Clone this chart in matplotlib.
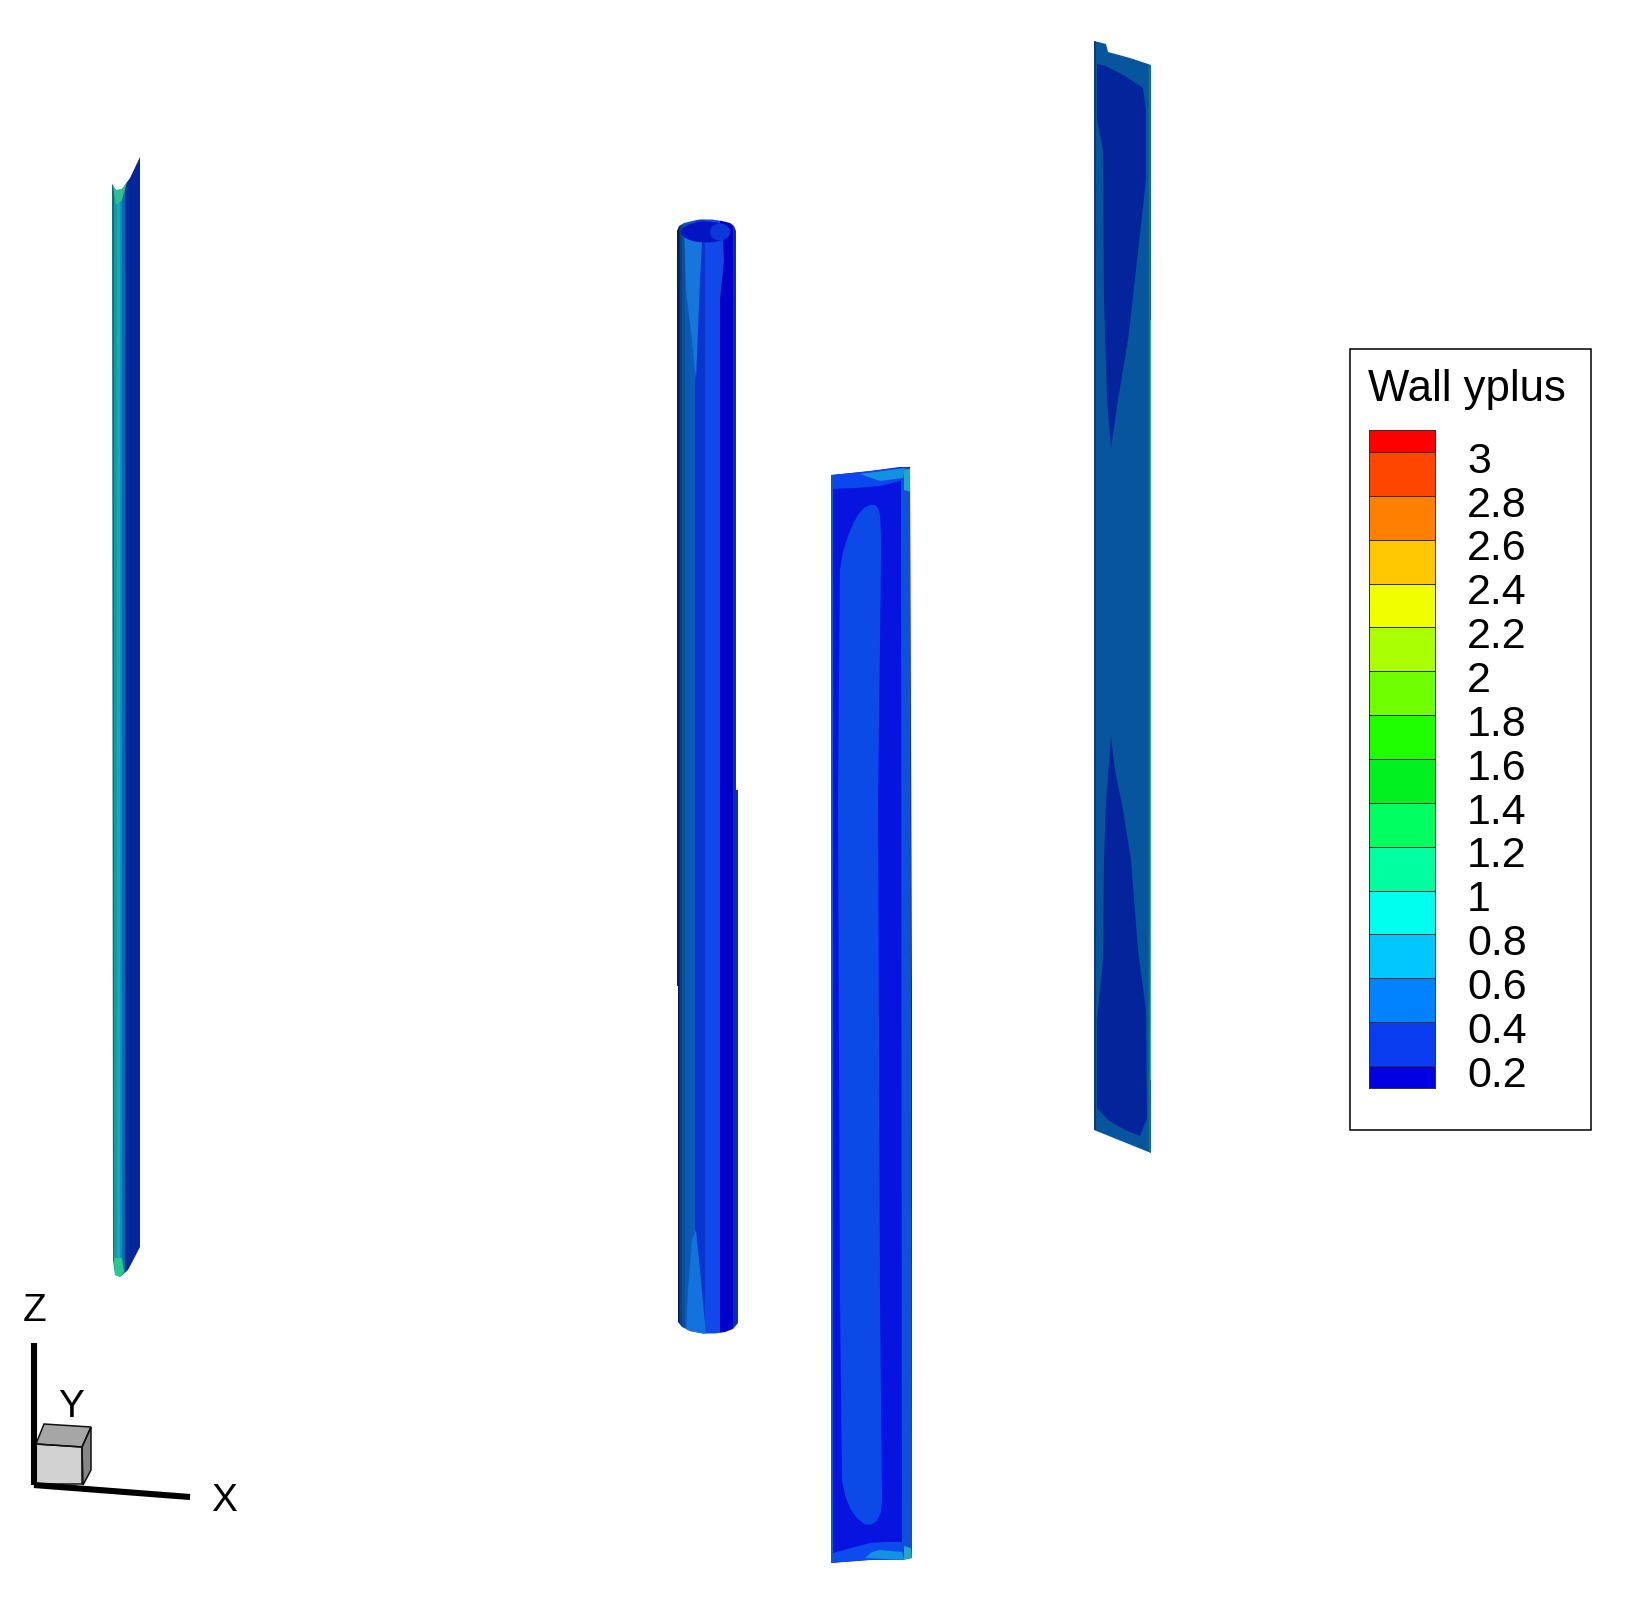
import numpy as np
import matplotlib
matplotlib.use("Agg")
import matplotlib.pyplot as plt
from matplotlib.colors import ListedColormap, BoundaryNorm
from matplotlib.patches import Polygon, Rectangle, Ellipse

plt.rcParams['font.family'] = ['Liberation Sans', 'DejaVu Sans']

# ---- colour legend data
title = "Wall yplus"
levels = [0.2, 0.4, 0.6, 0.8, 1.0, 1.2, 1.4, 1.6, 1.8, 2.0, 2.2, 2.4, 2.6, 2.8, 3.0]
level_labels = ["0.2", "0.4", "0.6", "0.8", "1", "1.2", "1.4", "1.6", "1.8", "2", "2.2", "2.4", "2.6", "2.8", "3"]
band_edges = [0.1] + levels + [3.1]
band_colors = ["#0000e0", "#0a3cf0", "#0082ff", "#00c8ff", "#00ffee", "#00ffa0", "#00ff60", "#00f020",
               "#20ff00", "#70ff00", "#aaff00", "#f0ff00", "#ffc800", "#ff8000", "#ff4600", "#ff0000"]

# ---- geometry of the four surfaces, in image pixels, with contour layers
blade_outline = [(112, 184), (116, 190), (122, 189), (130, 178), (140, 157), (140, 1247), (128, 1270), (120, 1277), (115, 1275), (113, 1260)]
blade_strips = [(112, 114, "#0e6a84"), (114, 117, "#149c9c"), (117, 120, "#12aabc"), (120, 122, "#0c90c0"), (122, 125, "#0868b4"),
                (125, 129, "#062c9c"), (129, 141, "#04269a")]
blade_tips = [([(113, 186), (116, 190), (122, 189), (127, 182), (122, 200), (116, 205)], "#30c090"),
              ([(114, 1258), (122, 1258), (124, 1272), (120, 1277), (115, 1275)], "#28c88c")]

tube_outline = [(677, 231), (679, 226), (684, 223), (692, 221), (700, 219.5), (712, 219.5), (722, 221), (730, 223), (734, 226), (736, 231),
                (736, 790), (738, 790), (738, 1323), (733, 1329), (725, 1332), (715, 1333.5), (703, 1333.5), (690, 1331), (682, 1327), (678, 1322),
                (678, 986), (677, 986)]
tube_strips = [(677, 678.5, "#06204c"), (678.5, 680, "#082e6c"), (680, 682, "#0a3e88"), (682, 685, "#0c4e9c"), (685, 690, "#0c5ab0"),
               (690, 695, "#0c5cc0"), (695, 705, "#0a34d0"), (705, 720, "#1048ea"), (720, 733, "#0000c8"), (733, 739, "#0a30b0")]
tube_layers = [([(684, 226), (703, 226), (700, 280), (698, 330), (696, 380), (692, 340), (686, 290)], "#1676dc"),
               ([(692, 1240), (696, 1230), (700, 1270), (706, 1334), (686, 1334), (688, 1290)], "#1272de"),
               ([(708, 225), (722, 225), (724, 260), (720, 300), (712, 300)], "#1048ea")]
tube_top = ((706, 232), 50, 21, "#0414c4")
tube_top_right = ((720, 232), 20, 17, "#0c36d8")

plate_outline = [(831, 475), (870, 471), (900, 467), (910, 467), (912, 1000), (912, 1558), (902, 1560), (870, 1560), (831, 1563)]
plate_main = "#0714e0"
plate_side = ([(901, 480), (910, 470), (912, 1558), (902, 1548)], "#1050d8")
plate_top = ([(831, 475), (870, 471), (908, 467), (904, 480), (880, 486), (855, 488), (831, 489)], "#0c46ee")
plate_top_light = ([(860, 474), (905, 468), (903, 478), (880, 481)], "#1490e0")
plate_bottom = ([(833, 1553), (855, 1547), (870, 1543), (885, 1542), (902, 1542), (904, 1560), (870, 1560), (831, 1563)], "#0c4cee")
plate_bottom_light = ([(865, 1558), (872, 1552), (880, 1550), (902, 1552), (904, 1560)], "#1494e0")
plate_inner = ([(840, 570), (843, 552), (848, 536), (853, 524), (858, 515), (864, 508), (870, 505), (875, 505), (878, 508), (880, 515),
                (881, 535), (881, 560), (878, 800), (880, 1300), (882, 1500), (881, 1512), (877, 1521), (870, 1525), (864, 1524), (857, 1518),
                (850, 1508), (845, 1495), (842, 1480), (840, 1300), (838, 800)], "#0c4ae8")
plate_edge = ([(830, 475), (832.5, 475), (832.5, 1563), (830, 1563)], "#0c5cc8")
plate_corners = [([(904, 470), (911, 468), (911, 492), (904, 490)], "#20a8c8"),
                 ([(904, 1546), (911, 1548), (912, 1560), (904, 1561)], "#20a8c8")]

flat_outline = [(1094, 41), (1106, 44), (1108, 52), (1130, 58), (1151, 65), (1151, 1153), (1094, 1130)]
flat_main = "#07559c"
flat_wedges = [([(1097, 64), (1106, 66), (1125, 76), (1143, 88), (1146, 110), (1146, 180), (1136, 270), (1128, 340), (1118, 400), (1111, 448),
                 (1107, 400), (1104, 300), (1103, 150), (1097, 120)], "#04249c"),
               ([(1111, 737), (1115, 770), (1123, 810), (1131, 860), (1138, 950), (1146, 1010), (1147, 1118), (1140, 1136), (1125, 1130), (1108, 1120),
                 (1097, 1108), (1097, 1020), (1103, 960), (1104, 860), (1106, 800)], "#04249c")]
flat_edges = [([(1093, 41), (1096, 41), (1096, 1130), (1093, 1130)], "#0e3c70"),
              ([(1148.5, 65), (1151, 65), (1151, 1153), (1148.5, 1150)], "#10709c"),
              ([(1149.5, 320), (1151.5, 320), (1151.5, 1080), (1149.5, 1080)], "#28a8a8")]

# ---- axis triad
triad_z = [(34, 1343), (34, 1485)]
triad_x = [(34, 1485), (190, 1497)]
cube_front = [(36, 1444), (82, 1447), (82, 1484), (36, 1484)]
cube_top = [(44, 1424), (91, 1427), (82, 1447), (36, 1444)]
cube_side = [(91, 1427), (91, 1470), (83, 1485), (82, 1447)]
triad_labels = [("Z", 35, 1311), ("Y", 71, 1407), ("X", 224, 1501)]

fig = plt.figure(figsize=(16.32, 16.02), dpi=100, facecolor="white")
ax = fig.add_axes([0, 0, 1, 1])
ax.set_xlim(0, 1632)
ax.set_ylim(1602, 0)
ax.axis("off")


def fill(points, color, z=2, clip=None):
    p = Polygon(points, closed=True, facecolor=color, edgecolor="none", zorder=z)
    ax.add_patch(p)
    if clip is not None:
        p.set_clip_path(clip)
    return p


def strips(strip_list, clip, ymin, ymax):
    for x0, x1, col in strip_list:
        r = Rectangle((x0, ymin), x1 - x0, ymax - ymin, facecolor=col, edgecolor="none", zorder=2)
        ax.add_patch(r)
        r.set_clip_path(clip)


# left blade
blade = Polygon(blade_outline, closed=True, facecolor="none", edgecolor="none")
ax.add_patch(blade)
strips(blade_strips, blade, 150, 1285)
for pts, col in blade_tips:
    fill(pts, col, 3, blade)

# tube
tube = Polygon(tube_outline, closed=True, facecolor="none", edgecolor="none")
ax.add_patch(tube)
strips(tube_strips, tube, 215, 1340)
for pts, col in tube_layers:
    fill(pts, col, 3, tube)
for (c, w, h, col) in (tube_top, tube_top_right):
    ax.add_patch(Ellipse(c, w, h, facecolor=col, edgecolor="none", zorder=4))

# plate
plate = Polygon(plate_outline, closed=True, facecolor=plate_main, edgecolor="none", zorder=1.5)
ax.add_patch(plate)
for pts, col in [plate_inner, plate_side, plate_top, plate_top_light, plate_bottom, plate_bottom_light, plate_edge] + plate_corners:
    fill(pts, col, 3, plate)

# flat plate on the right
flat = Polygon(flat_outline, closed=True, facecolor=flat_main, edgecolor="none", zorder=1.5)
ax.add_patch(flat)
for pts, col in flat_wedges + flat_edges:
    fill(pts, col, 3, flat)

# triad
fill(cube_front, "#d2d2d2", 4)
fill(cube_top, "#a6a6a6", 4)
fill(cube_side, "#868686", 4)
for poly in (cube_front, cube_top, cube_side):
    ax.add_patch(Polygon(poly, closed=True, facecolor="none", edgecolor="#101010", lw=1.1, zorder=5))
ax.plot(*zip(*triad_z), color="black", lw=4.4, zorder=6, solid_capstyle="butt")
ax.plot(*zip(*triad_x), color="black", lw=4.4, zorder=6, solid_capstyle="butt")
for s, x, y in triad_labels:
    ax.text(x, y, s, fontsize=28, color="black", ha="center", va="center", zorder=7)

# legend frame
ax.add_patch(Rectangle((1350, 349), 241, 781, facecolor="white", edgecolor="black", lw=1.1, zorder=8))
ax.text(1368, 390, title, fontsize=31.5, color="black", ha="left", va="center", zorder=9)

# colour bar
cax = fig.add_axes([1369 / 1632, 1 - 1088 / 1602, 66 / 1632, 658 / 1602], zorder=10)
cmap = ListedColormap(band_colors)
norm = BoundaryNorm(band_edges, cmap.N)
vals = np.array([0.5 * (a + b) for a, b in zip(band_edges[:-1], band_edges[1:])]).reshape(-1, 1)
cax.pcolormesh([0, 1], band_edges, vals, cmap=cmap, norm=norm, edgecolors="#303030", linewidth=0.6)
cax.set_xlim(0, 1)
cax.set_ylim(band_edges[0], band_edges[-1])
cax.set_xticks([])
cax.set_yticks([])
for s in cax.spines.values():
    s.set_linewidth(0.7)
    s.set_color("#303030")
for lev, lab in zip(levels, level_labels):
    cax.annotate(lab, xy=(1, lev), xycoords=("axes fraction", "data"), xytext=(23.0, -7),
                 textcoords="offset points", fontsize=31, ha="left", va="center", color="black")

fig.savefig("out.png", dpi=100, facecolor="white")
